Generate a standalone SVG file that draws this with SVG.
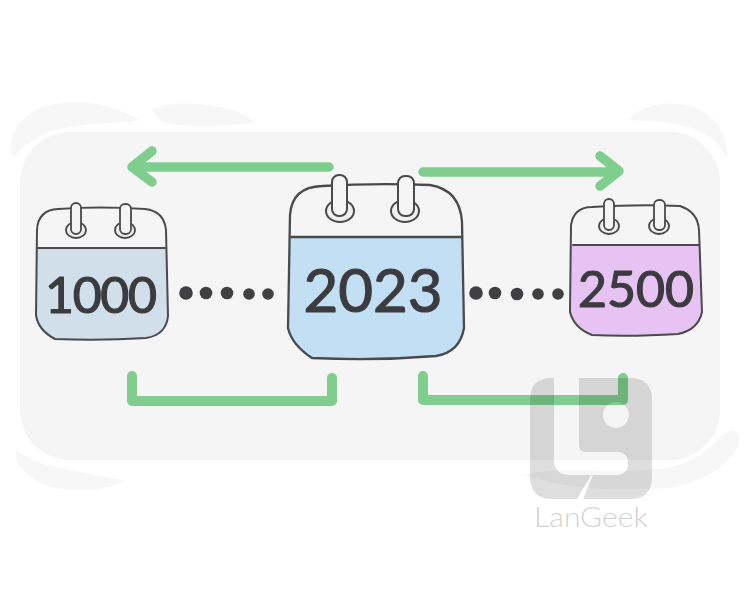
<svg xmlns="http://www.w3.org/2000/svg" width="750" height="600" viewBox="0 0 750 600">
<style>
.smear{fill:#f7f7f7}
.line{fill:none;stroke:#4a4a4d;stroke-linecap:round;stroke-linejoin:round}
.pin{fill:#f5f5f5;stroke:#4a4a4d;stroke-linejoin:round}
.ring{fill:#f0f0f0;stroke:#4a4a4d}
.num{font-family:Lato,"Open Sans",sans-serif;fill:#3c3c40;stroke:#3c3c40;stroke-width:1.200;text-anchor:middle;stroke-linejoin:round}
.dot{fill:#404043}
.green{fill:none;stroke:#7fce8e;stroke-linecap:round;stroke-linejoin:round}
</style>
<rect width="750" height="600" fill="#fff"/>
<g id="background">
<path class="smear" d="M10 152C10 125 30 104 70 102C100 100 125 112 140 120C125 124 95 122 70 127C45 133 25 142 14 157Z"/>
<path class="smear" d="M152 110C165 100 215 102 240 113C250 118 256 122 250 123C225 127 170 128 160 120Z"/>
<path class="smear" d="M628 120C640 105 668 100 690 106C715 113 729 135 727 160C722 140 695 125 665 122Z"/>
<path class="smear" d="M16 450C40 470 90 472 125 481C110 490 70 494 45 485C28 478 14 465 16 450Z"/>
<path class="smear" d="M523 475C560 465 610 475 667 468C700 462 715 440 728 432C736 428 741 434 739 443C732 465 700 485 667 488C620 491 570 490 523 475Z"/>
<rect x="20" y="132" width="700" height="328" rx="50" fill="#f5f5f5" stroke="#fff" stroke-width="8" paint-order="stroke"/>
</g>
<g id="connectors">
<path class="green" stroke-width="9.500" d="M329 167H134M152 151L132 167L152 182"/>
<path class="green" stroke-width="9.500" d="M423 172H617M600 156L619 171L600 186"/>
<path class="green" stroke-width="10" d="M132 376V401H332V378"/>
<path class="green" stroke-width="10" d="M423 376V400H623V378"/>
<g id="dots-left" class="dot">
<circle cx="186" cy="293" r="6.800"/><circle cx="206" cy="293" r="6.300"/><circle cx="227" cy="293" r="6.300"/><circle cx="249" cy="294" r="5.800"/><circle cx="268" cy="294" r="5.800"/>
</g>
<g id="dots-right" class="dot">
<circle cx="476" cy="293" r="6.800"/><circle cx="495" cy="293" r="6.300"/><circle cx="517" cy="294" r="6.300"/><circle cx="538" cy="294" r="5.800"/><circle cx="558" cy="294" r="5.800"/>
</g>
</g>
<g id="calendar-1000">
<path fill="#d0dfea" d="M37 248H166L168 316Q166 335 146 338Q100 341 55 339Q38 330 36 315Z"/>
<path class="line" stroke-width="2" d="M58 209Q100 206 145 209Q164 211 166 230L168 316Q166 335 146 338Q100 341 55 339Q38 330 36 315L37 230Q38 210 58 209Z"/>
<path class="line" stroke-width="2" d="M38 248H165"/>
<ellipse class="ring" stroke-width="1.800" cx="76" cy="230" rx="10" ry="8"/><rect class="pin" stroke-width="1.800" x="71" y="203" width="10" height="31" rx="5"/>
<ellipse class="ring" stroke-width="1.800" cx="125" cy="230" rx="10" ry="8"/><rect class="pin" stroke-width="1.800" x="120" y="204" width="11" height="30" rx="5"/>
<text class="num" x="101" y="313" font-size="50" textLength="112" lengthAdjust="spacing">1000</text>
</g>
<g id="calendar-2023">
<path fill="#c3dff3" d="M290 237H462L464 328Q460 352 436 356Q375 361 312 358Q292 345 288 328Z"/>
<path class="line" stroke-width="2.300" d="M322 186Q375 183 430 185Q460 190 462 222L464 328Q460 352 436 356Q375 361 312 358Q292 345 288 328L290 215Q292 187 322 186Z"/>
<path class="line" stroke-width="2.300" d="M291 237H462"/>
<ellipse class="ring" stroke-width="2" cx="340" cy="211" rx="14" ry="11"/><rect class="pin" stroke-width="2" x="332" y="175" width="15" height="41" rx="7"/>
<ellipse class="ring" stroke-width="2" cx="405" cy="211" rx="14" ry="11"/><rect class="pin" stroke-width="2" x="398" y="176" width="16" height="40" rx="7"/>
<text class="num" x="373" y="312" font-size="60" stroke-width="1.500">2023</text>
</g>
<g id="calendar-2500">
<path fill="#e6c3f3" d="M571 245H699L702 312Q698 330 678 334Q630 337 592 335Q574 328 570 312Z"/>
<path class="line" stroke-width="2" d="M592 207Q640 204 680 206Q698 212 699 230L702 312Q698 330 678 334Q630 337 592 335Q574 328 570 312L571 225Q574 207 592 207Z"/>
<path class="line" stroke-width="2" d="M573 245H699"/>
<ellipse class="ring" stroke-width="1.800" cx="609" cy="226" rx="10" ry="8"/><rect class="pin" stroke-width="1.800" x="604" y="199" width="10" height="31" rx="5"/>
<ellipse class="ring" stroke-width="1.800" cx="659" cy="226" rx="10" ry="8"/><rect class="pin" stroke-width="1.800" x="654" y="200" width="11" height="30" rx="5"/>
<text class="num" x="636" y="307" font-size="50" stroke-width="1.600">2500</text>
</g>
<g id="watermark">
<path fill="#000" fill-opacity=".13" fill-rule="evenodd" d="M554 378H552Q530 378 530 400V476Q530 499 552 499H577L591 475H570Q554 475 554 459ZM579 378V445Q579 452 586 452H616Q628 452 628 463Q628 475 616 475H593L583 499H630Q652 499 652 477V400Q652 378 630 378ZM616 402A13 13 0 1 1 615.900 402Z"/>
<text x="591" y="527" font-family="Lato,'Open Sans',sans-serif" font-weight="300" font-size="27" fill="#d2d2d2" text-anchor="middle" textLength="114" lengthAdjust="spacingAndGlyphs">LanGeek</text>
</g>
</svg>
